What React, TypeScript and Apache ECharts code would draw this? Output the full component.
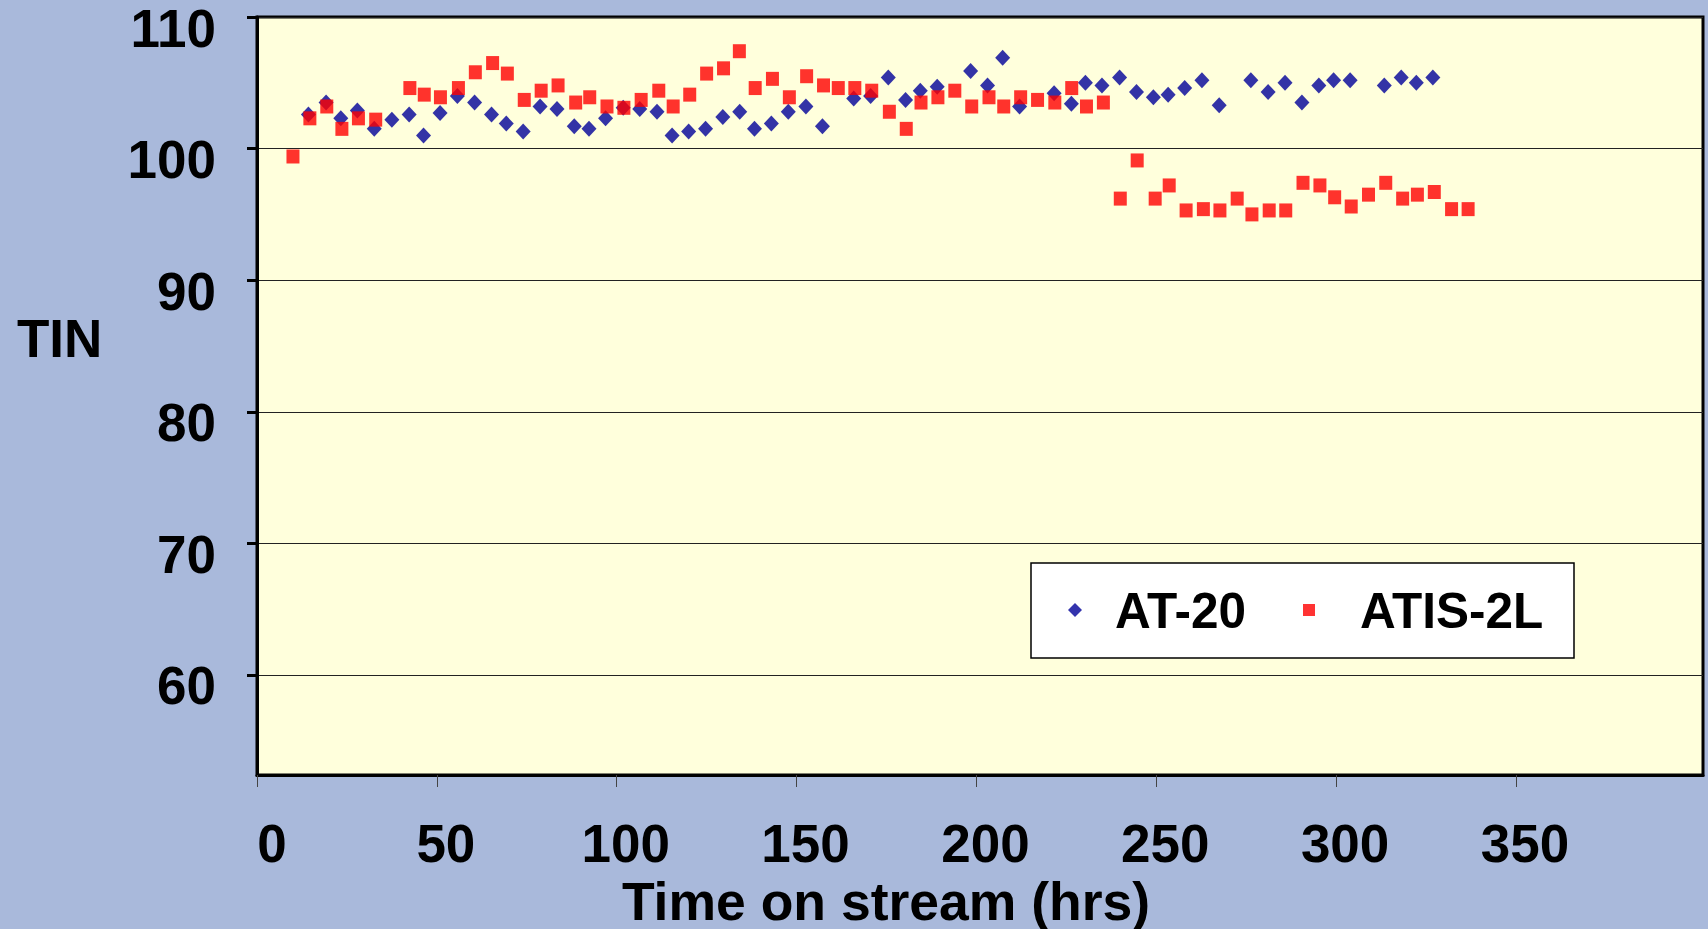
import React, { useEffect, useRef } from 'react';
import * as echarts from 'echarts';

const seriesNames = ['AT-20', 'ATIS-2L'];
const xTitle = 'Time on stream (hrs)';
const yTitle = 'TIN';
const xTickValues = [0, 50, 100, 150, 200, 250, 300, 350];
const yTickValues = [60, 70, 80, 90, 100, 110];

const at20X = [14.3, 19.2, 23.3, 27.9, 32.6, 37.5, 42.3, 46.3, 50.9, 55.7, 60.5, 65.2, 69.3, 74.0, 78.7, 83.4, 88.2, 92.3, 96.9, 101.8, 106.4, 111.2, 115.4, 120.0, 124.7, 129.5, 134.2, 138.3, 143.0, 147.7, 152.6, 157.2, 165.9, 170.6, 175.5, 180.3, 184.4, 189.1, 198.4, 203.1, 207.3, 212.0, 221.6, 226.4, 230.3, 234.9, 239.8, 244.5, 249.2, 253.3, 257.9, 262.7, 267.5, 276.3, 281.1, 285.8, 290.5, 295.2, 299.3, 303.9, 313.4, 318.1, 322.3, 326.9];
const at20Y = [102.6, 103.5, 102.3, 102.9, 101.5, 102.2, 102.6, 101.0, 102.7, 104.0, 103.5, 102.6, 101.9, 101.3, 103.2, 103.0, 101.7, 101.5, 102.3, 103.1, 103.0, 102.8, 101.0, 101.3, 101.5, 102.4, 102.8, 101.5, 101.9, 102.8, 103.2, 101.7, 103.8, 104.0, 105.4, 103.7, 104.4, 104.7, 105.9, 104.8, 106.9, 103.2, 104.2, 103.4, 105.0, 104.8, 105.4, 104.3, 103.9, 104.1, 104.6, 105.2, 103.3, 105.2, 104.3, 105.0, 103.5, 104.8, 105.2, 105.2, 104.8, 105.4, 105.0, 105.4];

const atisX = [10.0, 14.7, 19.4, 23.6, 28.2, 33.0, 42.5, 46.5, 51.0, 56.0, 60.7, 65.5, 69.6, 74.3, 79.0, 83.7, 88.6, 92.5, 97.3, 102.0, 106.8, 111.7, 115.7, 120.3, 125.0, 129.7, 134.1, 138.5, 143.3, 148.0, 152.8, 157.5, 161.6, 166.2, 170.9, 175.8, 180.5, 184.6, 189.3, 194.0, 198.7, 203.5, 207.6, 212.3, 217.0, 221.8, 226.5, 230.6, 235.3, 240.0, 244.7, 249.7, 253.6, 258.3, 263.1, 267.7, 272.5, 276.6, 281.4, 286.0, 290.8, 295.5, 299.6, 304.2, 309.0, 313.8, 318.5, 322.6, 327.3, 332.1, 336.7];
const atisY = [99.4, 102.3, 103.2, 101.5, 102.3, 102.2, 104.6, 104.1, 103.9, 104.6, 105.8, 106.5, 105.7, 103.7, 104.4, 104.8, 103.5, 103.9, 103.2, 103.1, 103.7, 104.4, 103.2, 104.1, 105.7, 106.1, 107.4, 104.6, 105.3, 103.9, 105.5, 104.8, 104.6, 104.6, 104.4, 102.8, 101.5, 103.5, 103.9, 104.4, 103.2, 103.9, 103.2, 103.9, 103.7, 103.5, 104.6, 103.2, 103.5, 96.2, 99.1, 96.2, 97.2, 95.3, 95.4, 95.3, 96.2, 95.0, 95.3, 95.3, 97.4, 97.2, 96.3, 95.6, 96.5, 97.4, 96.2, 96.5, 96.7, 95.4, 95.4];

const FONT = "'Liberation Sans', Arial, sans-serif";

export default function App() {
  const ref = useRef<HTMLDivElement>(null);
  useEffect(() => {
    if (!ref.current) return;
    const chart = echarts.init(ref.current, null, { renderer: 'svg' });
    const option: any = {
      animation: false,
      backgroundColor: '#A9B9DB',
      textStyle: { fontFamily: FONT },
      grid: {
        left: 257,
        right: 5,
        top: 17,
        bottom: 154,
        show: true,
        containLabel: false,
        outerBoundsMode: 'none',
        backgroundColor: '#FFFFDC',
        borderColor: '#000',
        borderWidth: 3,
      },
      xAxis: {
        type: 'value',
        min: 0,
        max: 402,
        axisLine: { show: true, lineStyle: { color: '#000', width: 3 } },
        axisTick: {
          show: true,
          customValues: xTickValues,
          length: 12,
          lineStyle: { color: '#444', width: 1 },
        },
        axisLabel: {
          customValues: xTickValues,
          color: '#000',
          fontSize: 53,
          fontWeight: 'bold',
          fontFamily: FONT,
          margin: 42,
          padding: [0, 0, 0, 18],
          formatter: (v: number) => (v === 0 ? '{z|0}' : String(v)),
          rich: {
            z: { fontSize: 53, fontWeight: 'bold', fontFamily: FONT, color: '#000', padding: [0, 0, 0, 12] },
          },
        },
        splitLine: { show: false },
      },
      yAxis: {
        type: 'value',
        min: 52.4,
        max: 110,
        axisLine: { show: true, lineStyle: { color: '#000', width: 3 } },
        axisTick: {
          show: true,
          customValues: yTickValues,
          length: 10,
          lineStyle: { color: '#000', width: 3 },
        },
        axisLabel: {
          customValues: yTickValues,
          color: '#000',
          fontSize: 53,
          fontWeight: 'bold',
          fontFamily: FONT,
          margin: 41,
          verticalAlign: 'top',
          lineHeight: 22,
        },
        splitLine: { show: true, lineStyle: { color: '#222', width: 1 } },
      },
      legend: [
        {
          data: [seriesNames[0]],
          left: 1068,
          top: 585,
          padding: 0,
          z: 10,
          selectedMode: false,
          itemWidth: 14,
          itemHeight: 14,
          textStyle: { fontSize: 49.5, fontWeight: 'bold', color: '#000', fontFamily: FONT, lineHeight: 50, padding: [0, 0, 0, 28] },
        },
        {
          data: [seriesNames[1]],
          left: 1303,
          top: 585,
          padding: 0,
          z: 10,
          selectedMode: false,
          itemWidth: 12,
          itemHeight: 12,
          textStyle: { fontSize: 49.5, fontWeight: 'bold', color: '#000', fontFamily: FONT, lineHeight: 50, padding: [0, 0, 0, 40] },
        },
      ],
      graphic: [
        {
          type: 'rect',
          z: 3,
          shape: { x: 1031, y: 563, width: 543, height: 95 },
          style: { fill: '#FFFFFF', stroke: '#000', lineWidth: 1.5 },
        },
        {
          type: 'text',
          x: 17,
          y: 338,
          z: 3,
          style: { text: yTitle, fontSize: 53, fontWeight: 'bold', fontFamily: FONT, fill: '#000', align: 'left', verticalAlign: 'middle' },
        },
        {
          type: 'text',
          x: 886,
          y: 901,
          z: 3,
          style: { text: xTitle, fontSize: 53.5, fontWeight: 'bold', fontFamily: FONT, fill: '#000', align: 'center', verticalAlign: 'middle' },
        },
      ],
      series: [
        {
          name: seriesNames[0],
          type: 'scatter',
          symbol: 'diamond',
          symbolSize: [15, 16],
          itemStyle: { color: '#000099' },
          data: at20X.map((x, i) => [x, at20Y[i]]),
        },
        {
          name: seriesNames[1],
          type: 'scatter',
          symbol: 'rect',
          symbolSize: [13, 14],
          itemStyle: { color: '#FF0000' },
          data: atisX.map((x, i) => [x, atisY[i]]),
        },
      ],
    };
    chart.setOption(option);
    return () => chart.dispose();
  }, []);
  return <div ref={ref} style={{ position: 'fixed', left: 0, top: 0, width: 1708, height: 929 }} />;
}
